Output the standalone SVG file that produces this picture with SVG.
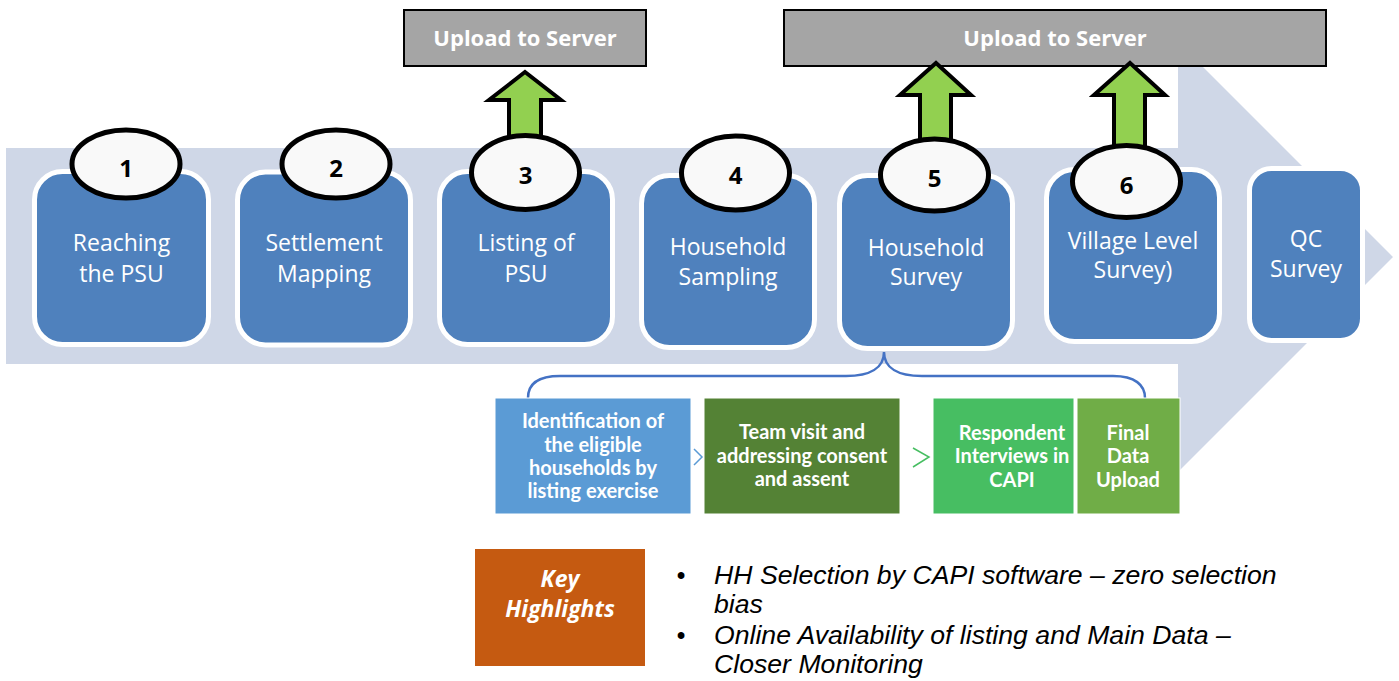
<svg xmlns="http://www.w3.org/2000/svg" width="1399" height="681" viewBox="0 0 1399 681">
  <style>
    .step { fill: #4F81BD; stroke: #FFFFFF; stroke-width: 5; }
    .step-label { font-family: "Open Sans", "Liberation Sans", sans-serif; font-size: 23px; fill: #FFFFFF; text-anchor: middle; }
    .badge { fill: #F9F9F9; stroke: #000000; stroke-width: 5; }
    .badge-num { font-family: "Open Sans", "Liberation Sans", sans-serif; font-size: 24px; font-weight: bold; fill: #000000; text-anchor: middle; }
    .server { fill: #A5A5A5; stroke: #000000; stroke-width: 2; }
    .server-label { font-family: "Open Sans", "Liberation Sans", sans-serif; font-size: 22px; font-weight: bold; fill: #FFFFFF; text-anchor: middle; }
    .upload-arrow { fill: #92D050; stroke: #000000; stroke-width: 4; stroke-linejoin: miter; }
    .sub { stroke: #FFFFFF; stroke-width: 1; }
    .sub-label { font-family: Lato, "Open Sans", "Liberation Sans", sans-serif; font-size: 20px; font-weight: bold; fill: #FFFFFF; text-anchor: middle; }
    .bullet { font-family: "Liberation Sans", Arial, sans-serif; font-size: 25px; font-style: italic; fill: #000000; }
  </style>

  <!-- background process arrow -->
  <polygon id="process-arrow" fill="#CFD7E7"
           points="6,148 1178,148 1178,42 1393,257 1178,472 1178,364 6,364"/>

  <!-- upload targets -->
  <g id="server-upload-1">
    <rect class="server" x="404" y="10" width="242" height="56"/>
    <text class="server-label" x="525" y="46">Upload to Server</text>
  </g>
  <g id="server-upload-2">
    <rect class="server" x="784" y="10" width="542" height="56"/>
    <text class="server-label" x="1055" y="46">Upload to Server</text>
  </g>

  <!-- connectors: upload arrows, brace and sub-step chevrons -->
  <g id="connectors">
    <polygon class="upload-arrow" points="525,72 561,100 541,100 541,145 509,145 509,100 489,100"/>
    <polygon class="upload-arrow" points="936,63 971,95 951,95 951,155 920,155 920,95 900,95"/>
    <polygon class="upload-arrow" points="1130,63 1165,95 1145,95 1145,160 1114,160 1114,95 1094,95"/>
    <path fill="none" stroke="#4472C4" stroke-width="2.5"
          d="M528,398 C528,384 538,376 560,376 L846,376 C870,376 884,368 884,352 C884,368 898,376 922,376 L1113,376 C1135,376 1145,385 1145,398"/>
    <polyline fill="none" stroke="#5B9BD5" stroke-width="1.5" points="694,449 702,457 694,465"/>
    <polyline fill="none" stroke="#47BE62" stroke-width="1.5" points="913,448 929,457 913,467"/>
  </g>

  <!-- main steps -->
  <g id="step-1">
    <rect class="step" x="34.5" y="171.5" width="174" height="173" rx="28"/>
    <text class="step-label" x="121.5" y="251">Reaching</text>
    <text class="step-label" x="121.5" y="282">the PSU</text>
    <ellipse class="badge" cx="126" cy="164" rx="54" ry="34"/>
    <text class="badge-num" x="126" y="177">1</text>
  </g>
  <g id="step-2">
    <rect class="step" x="237.5" y="172" width="173" height="173" rx="28"/>
    <text class="step-label" x="324" y="251">Settlement</text>
    <text class="step-label" x="324" y="282">Mapping</text>
    <ellipse class="badge" cx="336" cy="164" rx="54" ry="34"/>
    <text class="badge-num" x="336" y="177">2</text>
  </g>
  <g id="step-3">
    <rect class="step" x="439.5" y="171.5" width="173" height="173" rx="28"/>
    <text class="step-label" x="526" y="251">Listing of</text>
    <text class="step-label" x="526" y="282">PSU</text>
    <ellipse class="badge" cx="525.5" cy="172.5" rx="54" ry="37"/>
    <text class="badge-num" x="525.5" y="184">3</text>
  </g>
  <g id="step-4">
    <rect class="step" x="641.5" y="175.5" width="173" height="172" rx="28"/>
    <text class="step-label" x="728" y="255">Household</text>
    <text class="step-label" x="728" y="285">Sampling</text>
    <ellipse class="badge" cx="735.5" cy="173" rx="54" ry="37"/>
    <text class="badge-num" x="735.5" y="184">4</text>
  </g>
  <g id="step-5">
    <rect class="step" x="839.5" y="175.5" width="173" height="173" rx="28"/>
    <text class="step-label" x="926" y="256">Household</text>
    <text class="step-label" x="926" y="285">Survey</text>
    <ellipse class="badge" cx="934.5" cy="175" rx="54" ry="36"/>
    <text class="badge-num" x="934.5" y="187">5</text>
  </g>
  <g id="step-6">
    <rect class="step" x="1046.5" y="169.5" width="173" height="172" rx="28"/>
    <text class="step-label" x="1133" y="249">Village Level</text>
    <text class="step-label" x="1133" y="278">Survey)</text>
    <ellipse class="badge" cx="1126.5" cy="181.5" rx="54" ry="36"/>
    <text class="badge-num" x="1126.5" y="194">6</text>
  </g>
  <g id="step-qc">
    <rect class="step" x="1249.5" y="168.5" width="113" height="172" rx="22"/>
    <text class="step-label" x="1306" y="247">QC</text>
    <text class="step-label" x="1306" y="277">Survey</text>
  </g>

  <!-- household survey sub-steps -->
  <g id="sub-identification">
    <rect class="sub" x="495" y="398" width="196" height="116" fill="#5B9BD5"/>
    <text class="sub-label" x="593" y="428">Identification of</text>
    <text class="sub-label" x="593" y="452">the eligible</text>
    <text class="sub-label" x="593" y="475">households by</text>
    <text class="sub-label" x="593" y="498">listing exercise</text>
  </g>
  <g id="sub-team-visit">
    <rect class="sub" x="704" y="398" width="196" height="116" fill="#548235"/>
    <text class="sub-label" x="802" y="439">Team visit and</text>
    <text class="sub-label" x="802" y="463">addressing consent</text>
    <text class="sub-label" x="802" y="486">and assent</text>
  </g>
  <g id="sub-interviews">
    <rect class="sub" x="933" y="398" width="141" height="116" fill="#47BE62"/>
    <text class="sub-label" x="1012" y="440">Respondent</text>
    <text class="sub-label" x="1012" y="463">Interviews in</text>
    <text class="sub-label" x="1012" y="487">CAPI</text>
  </g>
  <g id="sub-final-upload">
    <rect class="sub" x="1077" y="398" width="103" height="116" fill="#70AD47"/>
    <text class="sub-label" x="1128" y="440">Final</text>
    <text class="sub-label" x="1128" y="463">Data</text>
    <text class="sub-label" x="1128" y="487">Upload</text>
  </g>

  <!-- key highlights -->
  <g id="key-highlights">
    <rect x="475" y="549" width="170" height="117" fill="#C55A11"/>
    <text x="560" y="587" font-family="'Open Sans', 'Liberation Sans', sans-serif" font-size="23" font-weight="bold" font-style="italic" fill="#FFFFFF" text-anchor="middle">Key</text>
    <text x="560" y="617" font-family="'Open Sans', 'Liberation Sans', sans-serif" font-size="23" font-weight="bold" font-style="italic" fill="#FFFFFF" text-anchor="middle">Highlights</text>
  </g>
  <g id="highlight-list">
    <text class="bullet" x="681" y="584" text-anchor="middle" font-style="normal">•</text>
    <text class="bullet" x="681" y="644" text-anchor="middle" font-style="normal">•</text>
    <!-- list text is set slightly wide -->
    <g transform="translate(714,0) scale(1.066,1) translate(-714,0)">
      <text class="bullet" x="714" y="584">HH Selection by CAPI software – zero selection</text>
      <text class="bullet" x="714" y="613">bias</text>
      <text class="bullet" x="714" y="644">Online Availability of listing and Main Data –</text>
      <text class="bullet" x="714" y="673">Closer Monitoring</text>
    </g>
  </g>
</svg>
